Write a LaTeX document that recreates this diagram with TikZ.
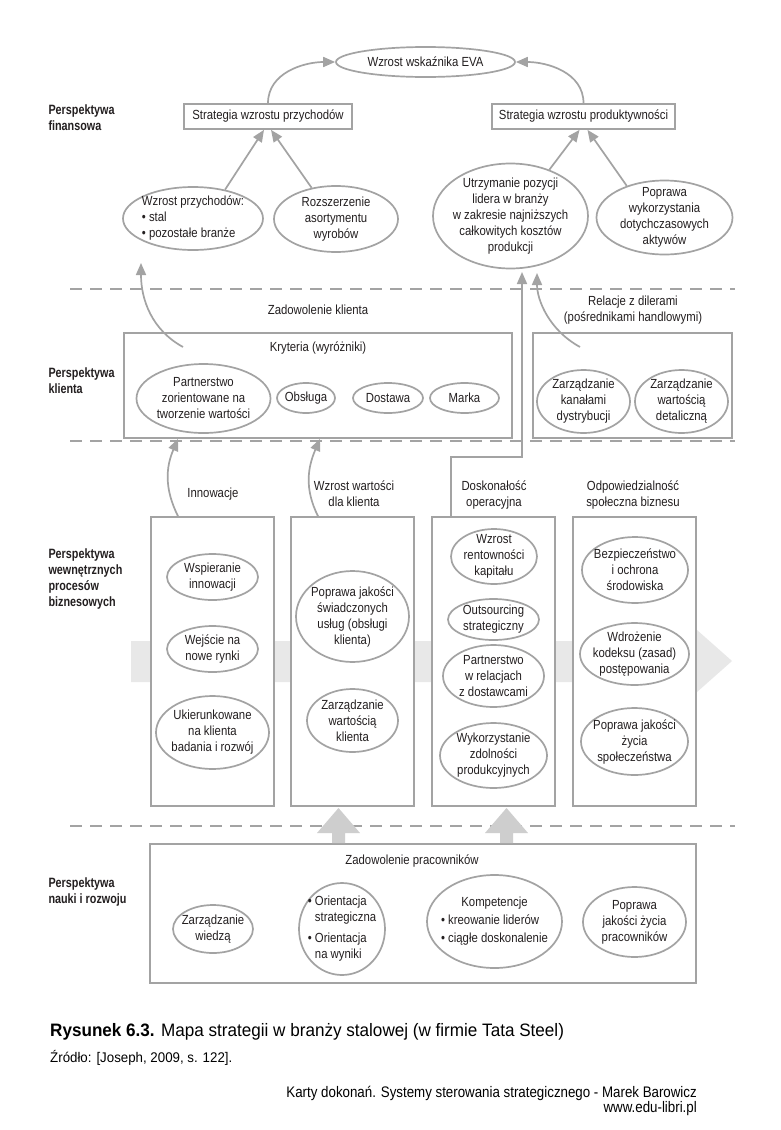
\documentclass[tikz,border=0pt]{standalone}
\usepackage{fontspec}
\setmainfont{Liberation Sans}
\newfontfamily\cond[FakeStretch=0.86]{Liberation Sans}
\newfontfamily\condb[FakeStretch=0.8]{Liberation Sans}
\newfontfamily\capf[FakeStretch=0.95]{Liberation Sans}
\newfontfamily\footf[FakeStretch=0.87]{Liberation Sans}
\usetikzlibrary{shapes.geometric,arrows.meta}
\definecolor{lg}{RGB}{163,163,163}
\definecolor{txt}{RGB}{35,31,32}
\definecolor{bandc}{RGB}{232,232,232}
\definecolor{blkc}{RGB}{206,206,206}
\begin{document}
\begin{tikzpicture}[x=1pt,y=-1pt,
  font=\cond\fontsize{13.2}{16}\selectfont, text=txt,
  lbl/.style={anchor=west,align=left,font=\condb\bfseries\fontsize{13.5}{16}\selectfont},
  box/.style={rectangle,draw=lg,line width=1.7pt,fill=white,inner sep=0pt},
  ell/.style={ellipse,draw=lg,line width=1.7pt,fill=white,inner xsep=-40pt,inner ysep=-30pt,align=center},
  arr/.style={draw=lg,line width=1.7pt,-{Triangle[length=12pt,width=10pt]}},
  dline/.style={draw=lg,line width=1.6pt,dash pattern=on 12pt off 8pt},
  plain/.style={align=center}]
\useasboundingbox (0,0) rectangle (781,1130);
\fill[white] (0,0) rectangle (781,1130);

% dashed separators
\draw[dline] (70,289) -- (735,289);
\draw[dline] (70,441) -- (735,441);
\draw[dline] (70,826) -- (735,826);

% ---------------- financial ----------------
\node[ell,minimum width=179pt,minimum height=30pt] (eva) at (425.5,62) {Wzrost wskaźnika EVA};
\node[box,minimum width=168pt,minimum height=25pt] (sp) at (268,116.5) {Strategia wzrostu przychodów};
\node[box,minimum width=183pt,minimum height=25pt] (spr) at (583.5,116.5) {Strategia wzrostu produktywności};
\node[lbl] (lf) at (45,118) {Perspektywa\\finansowa};
\node[ell,minimum width=140pt,minimum height=63pt,align=left] (wp) at (193,218.5) {Wzrost przychodów:\\• stal\\• pozostałe branże};
\node[ell,minimum width=124pt,minimum height=66pt] (ra) at (336,219) {Rozszerzenie\\asortymentu\\wyrobów};
\node[ell,minimum width=155pt,minimum height=105pt] (ut) at (510.5,216) {Utrzymanie pozycji\\lidera w branży\\w zakresie najniższych\\całkowitych kosztów\\produkcji};
\node[ell,minimum width=136pt,minimum height=74pt] (pw) at (664.5,217.5) {Poprawa\\wykorzystania\\dotychczasowych\\aktywów};

\draw[arr] (sp.north) to[out=90,in=180] (eva.west);
\draw[arr] (spr.north) to[out=90,in=0] (eva.east);
\draw[arr] (wp.42) -- ([xshift=-4pt]sp.south);
\draw[arr] (ra.128) -- ([xshift=3pt]sp.south);
\draw[arr] (ut.50) -- ([xshift=-4pt]spr.south);
\draw[arr] (pw.140) -- ([xshift=4pt]spr.south);

% ---------------- client ----------------
\node[box,minimum width=388pt,minimum height=105pt] (kr) at (318,385.5) {};
\node (zk) at (318,310) {Zadowolenie klienta};
\node (krt) at (318,348) {Kryteria (wyróżniki)};
\node[ell,minimum width=134pt,minimum height=69pt] (pz) at (203.5,398.5) {Partnerstwo\\zorientowane na\\tworzenie wartości};
\node[ell,minimum width=58pt,minimum height=30pt] (obs) at (306,398) {Obsługa};
\node[ell,minimum width=70pt,minimum height=30pt] (dost) at (388,398) {Dostawa};
\node[ell,minimum width=69pt,minimum height=30pt] (mar) at (464.5,398) {Marka};
\node[box,minimum width=199pt,minimum height=105pt] (dl) at (632.5,385.5) {};
\node[plain] (rd) at (633,310) {Relacje z dilerami\\(pośrednikami handlowymi)};
\node[ell,minimum width=93pt,minimum height=63pt] (zkd) at (583.5,401.5) {Zarządzanie\\kanałami\\dystrybucji};
\node[ell,minimum width=93pt,minimum height=63pt] (zwd) at (681.5,401.5) {Zarządzanie\\wartością\\detaliczną};
\node[lbl] (lk) at (45,381) {Perspektywa\\klienta};

\coordinate (c1) at (183,347);
\coordinate (t1) at (141,263);
\draw[arr] (c1) .. controls (152,330) and (141,300) .. (t1);
\coordinate (c2) at (580,347);
\coordinate (t2) at (537,273);
\draw[arr] (c2) .. controls (549,330) and (537,300) .. (t2);

% ---------------- internal processes ----------------
\fill[bandc] (131,641) -- (697,641) -- (697,630) -- (732,661) -- (697,692) -- (697,682) -- (131,682) -- cycle;
\node[box,minimum width=123pt,minimum height=289pt] (ib1) at (212.5,661.5) {};
\node[box,minimum width=123pt,minimum height=289pt] (ib2) at (352.5,661.5) {};
\node[box,minimum width=123pt,minimum height=289pt] (ib3) at (493.5,661.5) {};
\node[box,minimum width=123pt,minimum height=289pt] (ib4) at (634.5,661.5) {};
\node[lbl] (lw) at (45,579) {Perspektywa\\wewnętrznych\\procesów\\biznesowych};

\node (inn) at (213,494) {Innowacje};
\node[plain] (wwk) at (354,494) {Wzrost wartości\\dla klienta};
\node[plain] (dop) at (494,495) {Doskonałość\\operacyjna};
\node[plain] (osb) at (633,495) {Odpowiedzialność\\społeczna biznesu};

\node[ell,minimum width=91pt,minimum height=46pt] (wi) at (212.5,577) {Wspieranie\\innowacji};
\node[ell,minimum width=91pt,minimum height=46pt] (wn) at (212.5,649) {Wejście na\\nowe rynki};
\node[ell,minimum width=113pt,minimum height=73pt] (uk) at (212.5,732.5) {Ukierunkowane\\na klienta\\badania i rozwój};

\node[ell,minimum width=113pt,minimum height=91pt] (pj1) at (352.5,616.5) {Poprawa jakości\\świadczonych\\usług (obsługi\\klienta)};
\node[ell,minimum width=91pt,minimum height=63pt] (zwk) at (352.5,720.5) {Zarządzanie\\wartością\\klienta};

\node[ell,minimum width=86pt,minimum height=55pt] (wr) at (494,556.5) {Wzrost\\rentowności\\kapitału};
\node[ell,minimum width=91pt,minimum height=41pt] (out) at (493.5,619.5) {Outsourcing\\strategiczny};
\node[ell,minimum width=101pt,minimum height=62pt] (prd) at (493.5,676) {Partnerstwo\\w relacjach\\z dostawcami};
\node[ell,minimum width=107pt,minimum height=65pt] (wzp) at (493.5,755.5) {Wykorzystanie\\zdolności\\produkcyjnych};

\node[ell,minimum width=106pt,minimum height=66pt] (bez) at (635,570) {Bezpieczeństwo\\i ochrona\\środowiska};
\node[ell,minimum width=109pt,minimum height=62pt] (wdr) at (634.5,654) {Wdrożenie\\kodeksu (zasad)\\postępowania};
\node[ell,minimum width=107pt,minimum height=67pt] (pjs) at (634.5,741.5) {Poprawa jakości\\życia\\społeczeństwa};

\draw[arr] ([xshift=-34.5pt]ib1.north) .. controls +(-14,-28) and +(-12,28) .. ([xshift=-140pt]kr.south);
\draw[arr] ([xshift=-34.5pt]ib2.north) .. controls +(-14,-28) and +(-12,28) .. ([xshift=2pt]kr.south);
\coordinate (t3) at (522,272);
\draw[arr] ([xshift=-42.5pt]ib3.north) -- ++(0,-59) -| (t3);

% ---------------- learning ----------------
\node[box,minimum width=546pt,minimum height=139pt] (lb) at (423,913.5) {};
\fill[blkc] (332,843) -- (332,833) -- (317,833) -- (338.5,808) -- (360,833) -- (345,833) -- (345,843) -- cycle;
\fill[blkc] (500,843) -- (500,833) -- (485,833) -- (506.5,808) -- (528,833) -- (513,833) -- (513,843) -- cycle;
\node (zpr) at (412,861) {Zadowolenie pracowników};
\node[lbl] (ln) at (45,892) {Perspektywa\\nauki i rozwoju};
\node[ell,minimum width=80pt,minimum height=48pt] (zwi) at (213,929) {Zarządzanie\\wiedzą};
\node[ell,minimum width=86pt,minimum height=92pt] (ori) at (342,929) {\begin{tabular}{@{}l@{ }l@{}}• & Orientacja\\ & strategiczna\\[5pt] • & Orientacja\\ & na wyniki\end{tabular}};
\node[ell,minimum width=135pt,minimum height=93pt] (kom) at (494.5,921.5) {\begin{tabular}{@{}l@{ }l@{}}\multicolumn{2}{c}{Kompetencje}\\[2pt] • & kreowanie liderów\\[2pt] • & ciągłe doskonalenie\end{tabular}};
\node[ell,minimum width=103pt,minimum height=70pt] (pjp) at (634.5,922) {Poprawa\\jakości życia\\pracowników};

% ---------------- caption ----------------
\node[anchor=base west,text=black,font=\capf\fontsize{18}{22}\selectfont,inner sep=0pt] (cap) at (50,1036) {\textbf{Rysunek 6.3.} Mapa strategii w branży stalowej (w firmie Tata Steel)};
\node[anchor=base west,text=black,font=\capf\fontsize{14}{17}\selectfont,inner sep=0pt] (src) at (50,1062) {Źródło: [Joseph, 2009, s. 122].};
\node[anchor=base east,text=black,font=\footf\fontsize{15.3}{15}\selectfont,inner sep=0pt] (ft1) at (697,1097) {Karty dokonań. Systemy sterowania strategicznego - Marek Barowicz};
\node[anchor=base east,text=black,font=\footf\fontsize{15.3}{15}\selectfont,inner sep=0pt] (ft2) at (697,1112) {www.edu-libri.pl};
\end{tikzpicture}
\end{document}
